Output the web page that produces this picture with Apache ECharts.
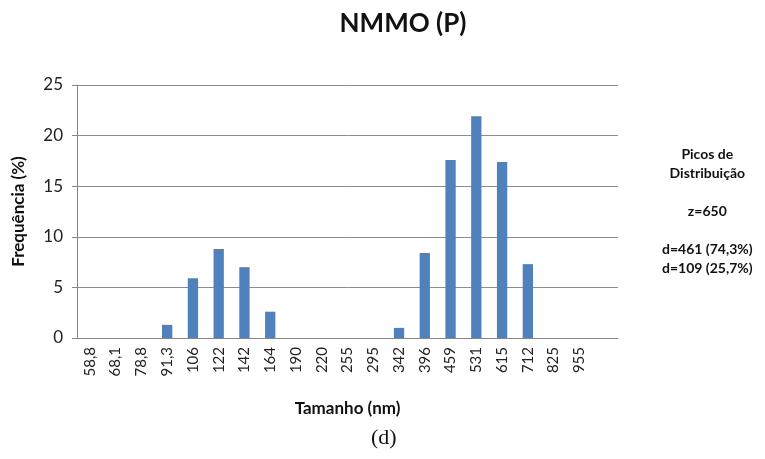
<!DOCTYPE html>
<html>
<head>
<meta charset="utf-8">
<script src="https://cdn.jsdelivr.net/npm/echarts@6/dist/echarts.min.js"></script>
<style>
  html, body { margin: 0; padding: 0; background: #fff; }
  #chart { width: 765px; height: 459px; }
</style>
</head>
<body>
<div id="chart"></div>
<script>
// tamanho (nm) - last slot is empty in the original
var categories = ["58,8", "68,1", "78,8", "91,3", "106", "122", "142", "164", "190", "220",
  "255", "295", "342", "396", "459", "531", "615", "712", "825", "955", ""];
// frequencia (%)
var frequencia = [0, 0, 0, 1.3, 5.9, 8.8, 7.0, 2.6, 0, 0,
  0, 0, 1.0, 8.4, 17.6, 21.9, 17.4, 7.3, 0, 0, 0];
var yTicks = [0, 5, 10, 15, 20, 25];
var picosLines = ["Picos de", "Distribuição", "", "z=650", "", "d=461 (74,3%)", "d=109 (25,7%)"];

var fontFam = "Lato";
var myChart = echarts.init(document.getElementById("chart"));
myChart.setOption({
  animation: false,
  title: {
    text: "NMMO (P)",
    left: 398,
    top: 6,
    textAlign: "center",
    textStyle: { fontFamily: fontFam, fontSize: 26, fontWeight: "bold", color: "#111" }
  },
  grid: { left: 77, right: 147, top: 85, bottom: 121 },
  xAxis: {
    type: "category",
    data: categories,
    name: "Tamanho (nm)",
    nameLocation: "middle",
    nameGap: 62,
    nameTextStyle: { fontFamily: fontFam, fontSize: 17, fontWeight: "bold", color: "#111" },
    axisLine: { lineStyle: { color: "#868686", width: 1 } },
    axisTick: { length: 5, lineStyle: { color: "#868686" } },
    axisLabel: { rotate: 90, interval: 0, margin: 9, fontFamily: fontFam, fontSize: 15, color: "#222" }
  },
  yAxis: {
    type: "value",
    min: yTicks[0],
    max: yTicks[yTicks.length - 1],
    interval: 5,
    name: "Frequência (%)",
    nameLocation: "middle",
    nameGap: 50,
    nameTextStyle: { fontFamily: fontFam, fontSize: 17, fontWeight: "bold", color: "#111" },
    axisLine: { show: true, lineStyle: { color: "#868686", width: 1 } },
    axisTick: { show: true, length: 5, lineStyle: { color: "#868686" } },
    axisLabel: { margin: 14, fontFamily: fontFam, fontSize: 17, color: "#222" },
    splitLine: { lineStyle: { color: "#8c8c8c", width: 1 } }
  },
  series: [{
    type: "bar",
    data: frequencia,
    barWidth: "40%",
    itemStyle: { color: "#4F81BD" }
  }],
  graphic: [{
    type: "text",
    left: 662,
    top: 145,
    style: {
      text: picosLines.join("\n"),
      x: 0, y: 0,
      textAlign: "center",
      fontFamily: fontFam,
      fontSize: 14,
      fontWeight: "bold",
      lineHeight: 19,
      fill: "#111"
    }
  }, {
    type: "text",
    left: 371,
    top: 427,
    style: {
      text: "(d)",
      fontFamily: "Liberation Serif",
      fontSize: 22,
      fill: "#111"
    }
  }]
});
</script>
</body>
</html>
